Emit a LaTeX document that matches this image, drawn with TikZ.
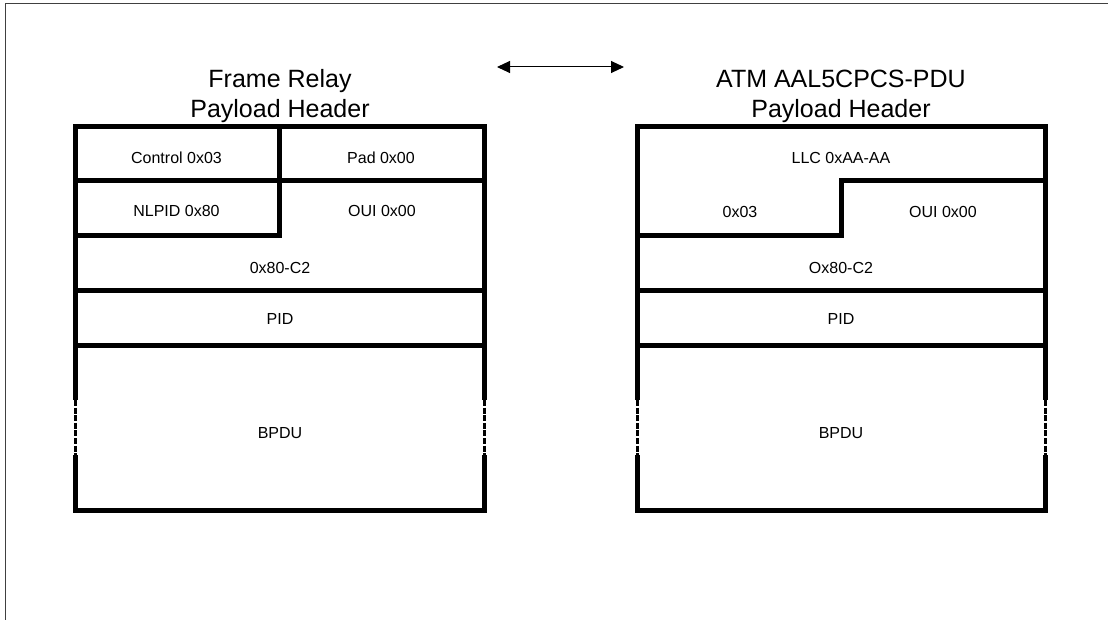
\documentclass[tikz,border=0pt]{standalone}
\usepackage{fontspec}
\setmainfont{Liberation Sans}
\usetikzlibrary{arrows.meta}
\begin{document}
\begin{tikzpicture}[x=1pt,y=-1pt,
  thk/.style={line width=5pt, line join=miter},
  dsh/.style={line width=3pt, dash pattern=on 6pt off 1.6pt},
  frm/.style={line width=1.5pt, draw=black!75},
  lbl/.style={anchor=base, inner sep=0pt, font=\fontsize{16}{19}\selectfont},
  ttl/.style={anchor=base, inner sep=0pt, font=\fontsize{25}{30}\selectfont},
  arr/.style={line width=1pt, {Triangle[length=13pt,width=12pt]}-{Triangle[length=13pt,width=12pt]}}
]
\useasboundingbox (0,0) rectangle (1108,620);
% frame
\draw[frm] (5.5,620) -- (5.5,3.5) -- (1108,3.5);

% titles
\node[ttl] (t1a) at (280,88) {Frame Relay};
\node[ttl] (t1b) at (280,118) {Payload Header};
\node[ttl] (t2a) at (841,88) {ATM AAL5CPCS-PDU};
\node[ttl] (t2b) at (841,118) {Payload Header};
\coordinate (aL) at (497,67);
\coordinate (aR) at (624,67);
\draw[arr] (aL) -- (aR);

% left block
\draw[thk] (75,400) -- (75,127) -- (484,127) -- (484,400);
\draw[thk] (75,455) -- (75,510) -- (484,510) -- (484,455);
\draw[dsh] (75,400) -- (75,455);
\draw[dsh] (484,400) -- (484,455);
\draw[thk] (75,181) -- (484,181);
\draw[thk] (75,236) -- (279,236) -- (279,127);
\draw[thk] (75,291) -- (484,291);
\draw[thk] (75,345) -- (484,345);

\node[lbl] (ctl) at (176.5,164) {Control 0x03};
\node[lbl] (pad) at (381,164) {Pad 0x00};
\node[lbl] (nlp) at (176.5,217) {NLPID 0x80};
\node[lbl] (oui1) at (382,217) {OUI 0x00};
\node[lbl] (c21) at (280,273) {0x80-C2};
\node[lbl] (pid1) at (280,324) {PID};
\node[lbl] (bp1) at (280,438) {BPDU};

% right block
\draw[thk] (637,400) -- (637,127) -- (1045,127) -- (1045,400);
\draw[thk] (637,455) -- (637,510) -- (1045,510) -- (1045,455);
\draw[dsh] (637,400) -- (637,455);
\draw[dsh] (1045,400) -- (1045,455);
\draw[thk] (637,236) -- (841,236) -- (841,181) -- (1045,181);
\draw[thk] (637,291) -- (1045,291);
\draw[thk] (637,345) -- (1045,345);

\node[lbl] (llc) at (841,164) {LLC 0xAA-AA};
\node[lbl] (x03) at (740,218) {0x03};
\node[lbl] (oui2) at (943,218) {OUI 0x00};
\node[lbl] (c22) at (841,273) {Ox80-C2};
\node[lbl] (pid2) at (841,324) {PID};
\node[lbl] (bp2) at (841,438) {BPDU};
\end{tikzpicture}
\end{document}
